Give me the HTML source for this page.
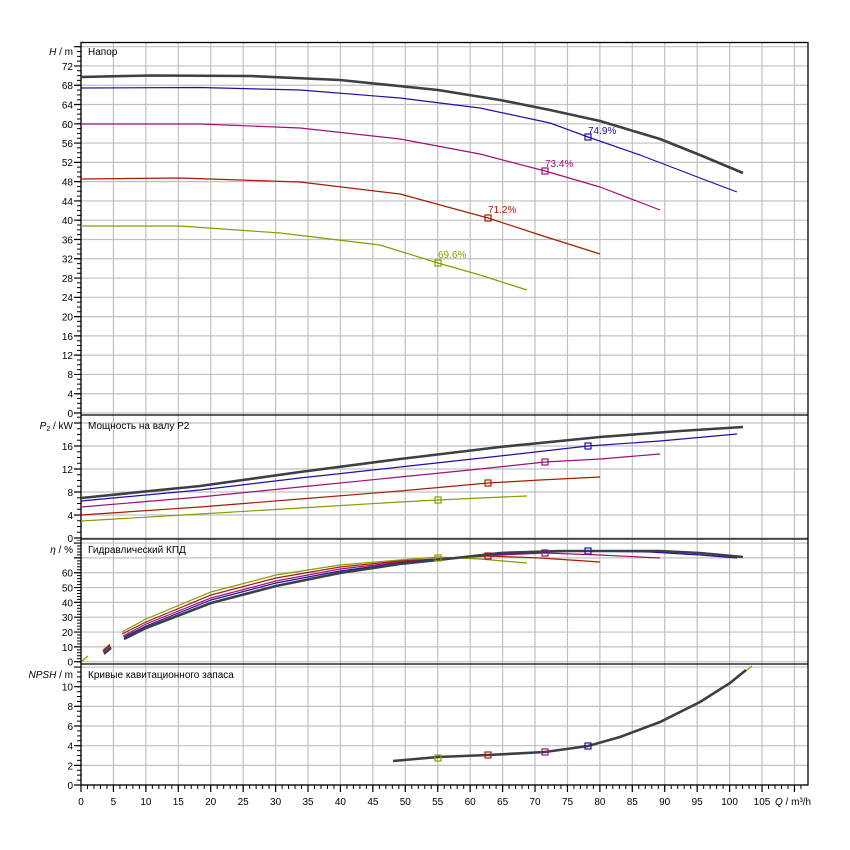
<!DOCTYPE html>
<html><head><meta charset="utf-8"><style>
html,body{margin:0;padding:0;background:#fff}
svg{display:block;font-family:"Liberation Sans",Arial,sans-serif;font-size:10px}
</style></head><body>
<svg width="850" height="850" viewBox="0 0 850 850" xmlns="http://www.w3.org/2000/svg">
<!-- grids via dasharray -->
<g stroke="#c0c0c0" fill="none">
<line x1="80.4" y1="413.75" x2="808" y2="413.75" stroke-width="742.5" stroke-dasharray="1.2 31.23"/>
<line x1="444.5" y1="413.6" x2="444.5" y2="43" stroke-width="727" stroke-dasharray="1.2 18.08"/>
<line x1="444.5" y1="538.6" x2="444.5" y2="416" stroke-width="727" stroke-dasharray="1.2 21.8"/>
<line x1="444.5" y1="662.3" x2="444.5" y2="540" stroke-width="727" stroke-dasharray="1.2 13.63"/>
<line x1="444.5" y1="785.6" x2="444.5" y2="665" stroke-width="727" stroke-dasharray="1.2 18.46"/>
</g>
<!-- ticks via dasharray -->
<g stroke="#000" fill="none">
<line x1="79" y1="413.5" x2="79" y2="43" stroke-width="4" stroke-dasharray="1 3.82"/>
<line x1="77.5" y1="413.6" x2="77.5" y2="43" stroke-width="7" stroke-dasharray="1.2 18.08"/>
<line x1="79" y1="538.5" x2="79" y2="416" stroke-width="4" stroke-dasharray="1 4.75"/>
<line x1="77.5" y1="538.6" x2="77.5" y2="416" stroke-width="7" stroke-dasharray="1.2 21.8"/>
<line x1="79" y1="662.2" x2="79" y2="540" stroke-width="4" stroke-dasharray="1 1.966"/>
<line x1="77.5" y1="662.3" x2="77.5" y2="540" stroke-width="7" stroke-dasharray="1.2 13.63"/>
<line x1="79" y1="785.5" x2="79" y2="665" stroke-width="4" stroke-dasharray="1 3.915"/>
<line x1="77.5" y1="785.6" x2="77.5" y2="665" stroke-width="7" stroke-dasharray="1.2 18.46"/>
<line x1="80.5" y1="787" x2="803" y2="787" stroke-width="4" stroke-dasharray="1 5.486"/>
<line x1="80.4" y1="788.5" x2="803" y2="788.5" stroke-width="7" stroke-dasharray="1.2 31.23"/>
</g>
<!-- frame -->
<g stroke="#000" stroke-width="1.3" fill="none">
<rect x="81" y="42.5" width="727" height="742.5"/>
<line x1="81" y1="415" x2="808" y2="415"/>
<line x1="81" y1="539" x2="808" y2="539"/>
<line x1="81" y1="664" x2="808" y2="664"/>
</g>
<!-- H curves -->
<g fill="none" stroke-linejoin="round">
<polyline stroke="#3a4048" stroke-width="2.6" points="81,77 150,75.5 250,76 340,80 438,90 500,100 550,110 600,121 660,139 700,155 743,173"/>
<polyline stroke="#2a0aa8" stroke-width="1.2" points="81,88 200,87.5 300,90 400,98 480,108 550,123 588,137 640,155 700,178 737,192"/>
<polyline stroke="#a0107a" stroke-width="1.2" points="81,124 200,124 300,128 400,139 480,154 545,171 600,187 660,210"/>
<polyline stroke="#a02000" stroke-width="1.2" points="81,179 180,178 300,182 400,194 488,218 540,235 600,254"/>
<polyline stroke="#8a9a00" stroke-width="1.2" points="81,226 180,226 280,233 380,245 438,263 480,275 527,290"/>
</g>
<g fill="none" stroke-width="1.2">
<rect x="585" y="134" width="6" height="6" stroke="#2a0aa8"/>
<rect x="542" y="168" width="6" height="6" stroke="#a0107a"/>
<rect x="485" y="215" width="6" height="6" stroke="#a02000"/>
<rect x="435" y="260" width="6" height="6" stroke="#8a9a00"/>
</g>
<text x="588" y="134" fill="#2a0aa8">74.9%</text>
<text x="545" y="167" fill="#a0107a">73.4%</text>
<text x="488" y="213" fill="#a02000">71.2%</text>
<text x="438" y="258" fill="#8a9a00">69.6%</text>
<!-- P curves -->
<g fill="none">
<polyline stroke="#3a4048" stroke-width="2.6" points="81,498 200,486 300,472 400,459 500,447 600,437 680,431 743,427"/>
<polyline stroke="#2a0aa8" stroke-width="1.2" points="81,501 200,490 300,478 400,467 500,456 588,446 660,441 737,434"/>
<polyline stroke="#a0107a" stroke-width="1.2" points="81,507 200,497 300,487 400,477 480,469 545,462 600,459 660,454"/>
<polyline stroke="#a02000" stroke-width="1.2" points="81,515 200,507 300,499 400,491 488,483 540,480 600,477"/>
<polyline stroke="#8a9a00" stroke-width="1.2" points="81,521 200,514 300,508 400,502 438,500 480,498 527,496"/>
</g>
<g fill="none" stroke-width="1.2">
<rect x="585" y="443" width="6" height="6" stroke="#2a0aa8"/>
<rect x="542" y="459" width="6" height="6" stroke="#a0107a"/>
<rect x="485" y="480" width="6" height="6" stroke="#a02000"/>
<rect x="435" y="497" width="6" height="6" stroke="#8a9a00"/>
</g>
<!-- eta curves -->
<g fill="none">
<polyline stroke="#8a9a00" stroke-width="1.2" points="82,661 88,656"/>
<polyline stroke="#8a9a00" stroke-width="1.2" points="103,650 110,644"/>
<polyline stroke="#8a9a00" stroke-width="1.2" points="122,632 146,619 211,592 276,575 340,565 400,560 438,557 480,559 527,563"/>
<polyline stroke="#a02000" stroke-width="1.2" points="103,651 110,645"/>
<polyline stroke="#a02000" stroke-width="1.2" points="122,634 146,622 211,595 276,578 340,567 400,561 488,556 540,558 600,562"/>
<polyline stroke="#a0107a" stroke-width="1.2" points="103,652 110,646"/>
<polyline stroke="#a0107a" stroke-width="1.2" points="123,636 146,624 211,598 276,581 340,569 400,562 480,556 545,553 600,555 660,558"/>
<polyline stroke="#2a0aa8" stroke-width="1.2" points="104,653 111,647"/>
<polyline stroke="#2a0aa8" stroke-width="1.2" points="124,637 146,626 211,600 276,583 340,571 400,563 480,555 550,552 588,551 650,552 700,555 737,558"/>
<polyline stroke="#3a4048" stroke-width="2.4" points="104,654 111,648"/>
<polyline stroke="#3a4048" stroke-width="2.6" points="124,639 146,628 211,603 276,586 340,573 400,564 438,560 500,553 560,551 600,551 660,551 700,553 743,557"/>
</g>
<g fill="none" stroke-width="1.2">
<rect x="585" y="548" width="6" height="6" stroke="#2a0aa8"/>
<rect x="542" y="550" width="6" height="6" stroke="#a0107a"/>
<rect x="485" y="553" width="6" height="6" stroke="#a02000"/>
<rect x="435" y="555" width="6" height="6" stroke="#8a9a00"/>
</g>
<!-- NPSH -->
<polyline fill="none" stroke="#8a9a00" stroke-width="1.2" points="730,683 743,673 752,666"/>
<polyline fill="none" stroke="#3a4048" stroke-width="2.6" points="393,761 438,757 488,755 545,752 588,746 620,737 660,722 700,702 730,683 746,670"/>
<g fill="none" stroke-width="1.2">
<rect x="585" y="743" width="6" height="6" stroke="#2a0aa8"/>
<rect x="542" y="749" width="6" height="6" stroke="#a0107a"/>
<rect x="485" y="752" width="6" height="6" stroke="#a02000"/>
<rect x="435" y="755" width="6" height="6" stroke="#8a9a00"/>
</g>
<!-- titles -->
<text x="88" y="55">Напор</text>
<text x="88" y="429">Мощность на валу P2</text>
<text x="88" y="553">Гидравлический КПД</text>
<text x="88" y="678">Кривые кавитационного запаса</text>
<g text-anchor="end">
<text x="73" y="55"><tspan font-style="italic">H</tspan> / m</text>
<text x="73" y="429"><tspan font-style="italic">P</tspan><tspan font-size="7" dy="2">2</tspan><tspan dy="-2"> / kW</tspan></text>
<text x="73" y="553"><tspan font-style="italic">η</tspan> / %</text>
<text x="73" y="678"><tspan font-style="italic">NPSH</tspan> / m</text>
<text x="73" y="417">0</text><text x="73" y="397.5">4</text><text x="73" y="378">8</text><text x="73" y="359">12</text>
<text x="73" y="340">16</text><text x="73" y="320.5">20</text><text x="73" y="301">24</text><text x="73" y="282">28</text>
<text x="73" y="262.5">32</text><text x="73" y="243.5">36</text><text x="73" y="224">40</text><text x="73" y="205">44</text>
<text x="73" y="185.5">48</text><text x="73" y="166">52</text><text x="73" y="147">56</text><text x="73" y="128">60</text>
<text x="73" y="108.5">64</text><text x="73" y="89">68</text><text x="73" y="70">72</text>
<text x="73" y="542">0</text><text x="73" y="519">4</text><text x="73" y="496">8</text><text x="73" y="473">12</text><text x="73" y="450">16</text>
<text x="73" y="665.5">0</text><text x="73" y="651">10</text><text x="73" y="636">20</text><text x="73" y="621">30</text>
<text x="73" y="606.5">40</text><text x="73" y="591.5">50</text><text x="73" y="576.5">60</text>
<text x="73" y="789">0</text><text x="73" y="769.5">2</text><text x="73" y="749.5">4</text><text x="73" y="730">6</text>
<text x="73" y="710">8</text><text x="73" y="690.5">10</text>
</g>
<g text-anchor="middle">
<text x="81" y="805">0</text><text x="113.4" y="805">5</text><text x="145.9" y="805">10</text><text x="178.3" y="805">15</text>
<text x="210.7" y="805">20</text><text x="243.2" y="805">25</text><text x="275.6" y="805">30</text><text x="308" y="805">35</text>
<text x="340.4" y="805">40</text><text x="372.9" y="805">45</text><text x="405.3" y="805">50</text><text x="437.7" y="805">55</text>
<text x="470.2" y="805">60</text><text x="502.6" y="805">65</text><text x="535" y="805">70</text><text x="567.5" y="805">75</text>
<text x="599.9" y="805">80</text><text x="632.3" y="805">85</text><text x="664.7" y="805">90</text><text x="697.2" y="805">95</text>
<text x="729.6" y="805">100</text><text x="762" y="805">105</text>
</g>
<text x="775" y="805"><tspan font-style="italic">Q</tspan> / m³/h</text>
</svg>
</body></html>
